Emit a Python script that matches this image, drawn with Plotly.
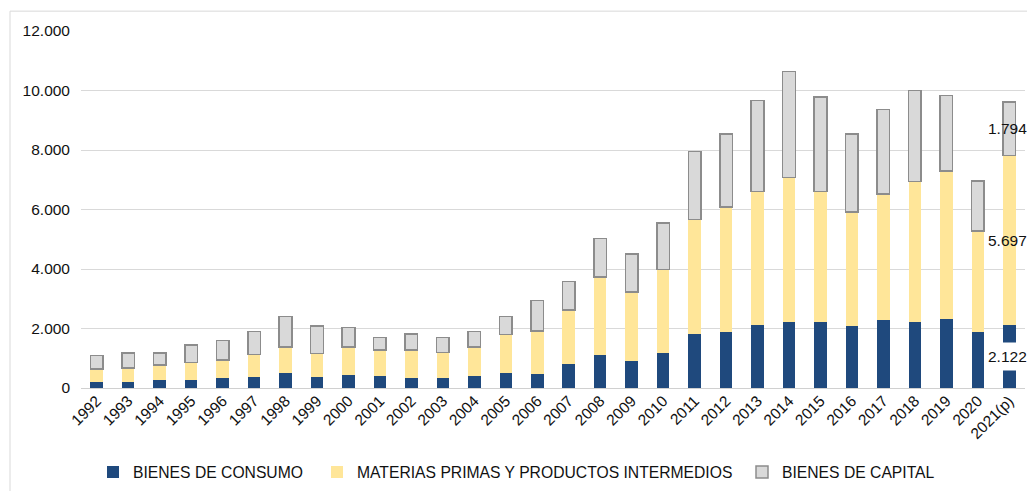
import plotly.graph_objects as go

# Importaciones por uso económico (valores anuales)
years = ["1992", "1993", "1994", "1995", "1996", "1997", "1998", "1999", "2000",
         "2001", "2002", "2003", "2004", "2005", "2006", "2007", "2008", "2009",
         "2010", "2011", "2012", "2013", "2014", "2015", "2016", "2017", "2018",
         "2019", "2020", "2021(p)"]

consumo = [200, 200, 257, 257, 333, 377, 500, 377, 450, 390, 343, 343, 390, 510,
           477, 810, 1110, 900, 1190, 1810, 1877, 2110, 2210, 2210, 2090, 2277,
           2210, 2310, 1877, 2122]
materias = [433, 477, 520, 598, 610, 745, 877, 778, 927, 887, 934, 857, 987, 1290,
            1446, 1813, 2623, 2323, 2787, 3847, 4213, 4490, 4867, 4390, 3833, 4246,
            4733, 4980, 3400, 5697]
capital = [457, 500, 400, 588, 657, 778, 1033, 922, 656, 413, 546, 490, 523, 610,
           1010, 954, 1290, 1287, 1566, 2286, 2453, 3057, 3566, 3190, 2620, 2834,
           3057, 2543, 1680, 1794]

y_ticks = [0, 2000, 4000, 6000, 8000, 10000, 12000]

FONT = "Liberation Sans, Arial, sans-serif"
TXT = "#111111"

fig = go.Figure()
fig.add_trace(go.Bar(
    x=years, y=consumo, name="BIENES DE CONSUMO",
    marker=dict(color="#1F497D", line=dict(width=0)), legend="legend",
    showlegend=True,
))
fig.add_trace(go.Bar(
    x=years, y=materias, name="MATERIAS PRIMAS Y PRODUCTOS INTERMEDIOS",
    marker=dict(color="#FFE699", line=dict(width=0)), legend="legend2",
    showlegend=True,
))
fig.add_trace(go.Bar(
    x=years, y=capital, name="BIENES DE CAPITAL",
    marker=dict(color="#D9D9D9", line=dict(color="#8C8C8C", width=1.5)),
    legend="legend3", showlegend=True,
))


def fmt(v):
    return f"{v:,}".replace(",", ".")


# Etiquetas de valor del último año, centradas en cada segmento
last = len(years) - 1
c, m, k = consumo[last], materias[last], capital[last]
labels = [
    (c / 2, c, "white"),
    (c + m / 2, m, "rgba(0,0,0,0)"),
    (c + m + k / 2, k, "rgba(0,0,0,0)"),
]
for yc, val, bg in labels:
    fig.add_annotation(
        x=years[last], y=yc, text=fmt(val), showarrow=False,
        xanchor="center", yanchor="middle", xshift=-1.5,
        height=25, borderpad=1,
        font=dict(family=FONT, size=15.5, color=TXT),
        bgcolor=bg,
    )

# Borde del área del gráfico
fig.add_shape(
    type="rect", xref="paper", yref="paper",
    x0=-0.0752, x1=1.2, y0=-0.6, y1=1.0556,
    line=dict(color="#D9D9D9", width=1), fillcolor="rgba(0,0,0,0)", layer="below",
)

legend_common = dict(
    orientation="h", yanchor="middle", y=-0.236, xanchor="left",
    font=dict(family=FONT, size=15.7, color=TXT), bgcolor="rgba(0,0,0,0)",
    visible=True,
)

fig.update_layout(
    width=1027, height=491,
    barmode="stack", bargap=0.6,
    separators=",.",
    showlegend=True,
    paper_bgcolor="white", plot_bgcolor="white",
    margin=dict(l=81, r=2, t=31, b=100),
    font=dict(family=FONT, size=15.5, color=TXT),
    xaxis=dict(
        type="category", tickangle=-45, range=[-0.5, len(years) - 0.5],
        showgrid=False, showline=False, ticks="",
        tickfont=dict(family=FONT, size=15.5, color=TXT),
    ),
    yaxis=dict(
        range=[0, 12000], tickvals=y_ticks, tickformat=",d",
        showgrid=True, gridcolor="#D9D9D9", gridwidth=1,
        zeroline=True, zerolinecolor="#D0D0D0", zerolinewidth=1,
        showline=False, ticks="", ticklabelstandoff=10,
        tickfont=dict(family=FONT, size=15.5, color=TXT),
    ),
    legend=dict(x=(93 - 81) / 944, **legend_common),
    legend2=dict(x=(317 - 81) / 944, **legend_common),
    legend3=dict(x=(742 - 81) / 944, **legend_common),
)

fig.write_html("out.html")
